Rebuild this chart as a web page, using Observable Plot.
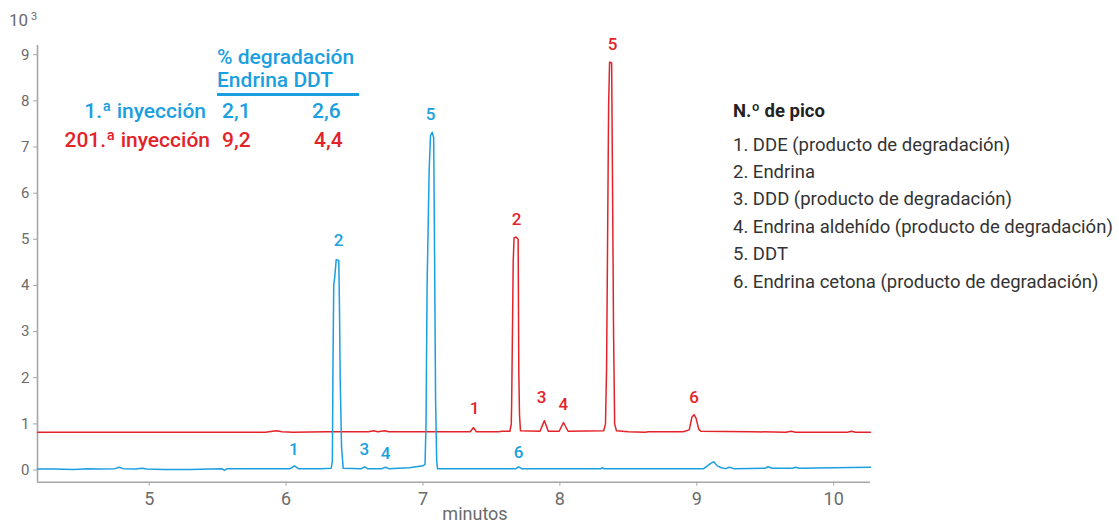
<!DOCTYPE html>
<html>
<head>
<meta charset="utf-8">
<script src="https://cdn.jsdelivr.net/npm/d3@7"></script>
<script src="https://cdn.jsdelivr.net/npm/@observablehq/plot@0.6"></script>
<style>
  html, body { margin: 0; padding: 0; background: #fff; }
  #wrap { position: relative; width: 1119px; height: 529px; font-family: Roboto, "Noto Sans", sans-serif; }
  .ov { position: absolute; white-space: nowrap; line-height: 1; }
  .blue { color: #1a9fe0; }
  .red { color: #e3232a; }
  .tb { font-size: 21px; font-weight: 500; }
  .lg { font-size: 18.5px; color: #333; }
</style>
</head>
<body>
<div id="wrap"></div>
<script>
// ---- data (minutes, response ×10³) ----
const blueTime = [4.184,4.30,4.45,4.55,4.62,4.75,4.78,4.81,4.90,4.95,4.98,5.10,5.30,5.45,5.53,5.55,5.57,5.80,6.03,6.061,6.09,6.25,6.33,6.338,6.343,6.348,6.356,6.366,6.385,6.39,6.395,6.405,6.417,6.55,6.572,6.595,6.70,6.726,6.75,6.90,7.00,7.015,7.022,7.03,7.045,7.055,7.067,7.078,7.085,7.092,7.10,7.106,7.40,7.68,7.698,7.72,8.10,8.30,8.31,8.32,8.70,9.05,9.10,9.124,9.15,9.18,9.21,9.24,9.27,9.50,9.52,9.55,9.70,9.72,9.75,10.0,10.269];
const blueResp = [0.02,0.02,0.01,0.03,0.02,0.03,0.06,0.03,0.02,0.04,0.02,0.01,0.01,0.02,0.03,-0.01,0.03,0.03,0.03,0.09,0.03,0.03,0.04,0.2,2.5,4.0,4.2,4.56,4.54,3.5,2.0,0.5,0.04,0.03,0.07,0.03,0.03,0.06,0.03,0.05,0.09,0.12,1.0,4.0,6.5,7.25,7.32,7.2,4.5,1.5,0.2,0.03,0.03,0.03,0.07,0.03,0.03,0.03,0.05,0.03,0.03,0.03,0.14,0.18,0.09,0.05,0.03,0.06,0.03,0.04,0.07,0.04,0.04,0.06,0.04,0.05,0.06];

const redTime = [4.184,5.85,5.90,5.93,5.97,6.05,6.30,6.60,6.64,6.67,6.72,6.75,7.345,7.369,7.39,7.55,7.58,7.635,7.645,7.648,7.659,7.665,7.68,7.695,7.70,7.705,7.712,7.855,7.887,7.915,7.995,8.026,8.06,8.32,8.333,8.341,8.348,8.356,8.363,8.378,8.385,8.392,8.40,8.413,8.50,8.62,8.65,8.90,8.945,8.965,8.98,8.995,9.015,9.03,9.40,9.65,9.69,9.72,10.10,10.13,10.16,10.269];
const redResp = [0.82,0.82,0.84,0.85,0.83,0.82,0.83,0.83,0.85,0.83,0.85,0.83,0.83,0.92,0.83,0.83,0.84,0.84,1.0,1.5,4.5,5.03,5.05,5.0,2.1,1.2,0.85,0.84,1.07,0.84,0.84,1.03,0.84,0.85,1.0,2.2,4.8,7.9,8.84,8.82,6.0,3.0,1.0,0.85,0.83,0.82,0.83,0.83,0.87,1.15,1.20,1.12,0.88,0.84,0.83,0.82,0.84,0.82,0.82,0.84,0.82,0.82];

// peak labels (position)
const peakNames = ["1","2","3","4","5","6"];
const bluePeakTime = [6.056,6.383,6.572,6.726,7.055,7.698];
const bluePeakLabelY = [0.44,4.97,0.44,0.36,7.70,0.38];
const redPeakTime = [7.376,7.683,7.866,8.026,8.384,8.98];
const redPeakLabelY = [1.33,5.43,1.57,1.42,9.22,1.57];

const xTicks = [5,6,7,8,9,10];
const yTicks = [0,1,2,3,4,5,6,7,8,9];
const xDomain = [4.184, 10.269];
const yDomain = [-0.264, 9.2];

const legendTitle = "N.º de pico";
const legendItems = ["1. DDE (producto de degradación)","2. Endrina","3. DDD (producto de degradación)","4. Endrina aldehído (producto de degradación)","5. DDT","6. Endrina cetona (producto de degradación)"];

const BLUE = "#1a9fe0", RED = "#e3232a", GRAY = "#a6a6a6", TXT = "#6b6b6b";

const blue = blueTime.map((t,i)=>({t, v: blueResp[i]}));
const red = redTime.map((t,i)=>({t, v: redResp[i]}));
const blueLab = peakNames.map((n,i)=>({n, t: bluePeakTime[i], v: bluePeakLabelY[i]}));
const redLab = peakNames.map((n,i)=>({n, t: redPeakTime[i], v: redPeakLabelY[i]}));

const chart = Plot.plot({
  width: 1119, height: 529,
  marginLeft: 37, marginRight: 249, marginTop: 45, marginBottom: 47.3,
  style: {fontFamily: "Roboto, 'Noto Sans', sans-serif", background: "transparent"},
  x: {domain: xDomain},
  y: {domain: yDomain},
  marks: [
    Plot.ruleX([xDomain[0]], {stroke: GRAY, strokeWidth: 1.6}),
    Plot.ruleY([yDomain[0]], {stroke: GRAY, strokeWidth: 1.6}),
    Plot.axisY({ticks: yTicks, tickFormat: d => String(d), tickSize: 4, tickPadding: 4, stroke: GRAY, color: TXT, fontSize: 15, label: null}),
    Plot.axisX({ticks: xTicks, tickFormat: d => String(d), tickSize: 4, tickPadding: 6, stroke: GRAY, color: TXT, fontSize: 18, label: null}),
    Plot.line(red, {x: "t", y: "v", stroke: RED, strokeWidth: 1.5}),
    Plot.line(blue, {x: "t", y: "v", stroke: BLUE, strokeWidth: 1.5}),
    Plot.text(blueLab, {x: "t", y: "v", text: "n", fill: BLUE, fontSize: 17, fontWeight: 500}),
    Plot.text(redLab, {x: "t", y: "v", text: "n", fill: RED, fontSize: 17, fontWeight: 500}),
    Plot.text(["minutos"], {frameAnchor: "bottom", dx: 21, dy: 38, text: d => d, fill: TXT, fontSize: 18})
  ]
});

const wrap = document.getElementById("wrap");
wrap.appendChild(chart);

function ov(html, css, cls) {
  const d = document.createElement("div");
  d.className = "ov " + (cls || "");
  d.innerHTML = html;
  Object.assign(d.style, css);
  wrap.appendChild(d);
  return d;
}
// 10^3
ov('10<sup style="font-size:11px;vertical-align:6px;margin-left:3px">3</sup>', {left: "9px", top: "11px", fontSize: "17px", color: TXT});

// degradation table
ov("% degradación", {left: "217px", top: "46.5px"}, "tb blue");
ov("Endrina DDT", {left: "217px", top: "69.5px"}, "tb blue");
ov("", {left: "217px", top: "93px", width: "142px", height: "2.5px", background: BLUE});
ov("1.ª inyección", {right: (1119-206)+"px", top: "100.5px"}, "tb blue");
ov("2,1", {left: "222px", top: "100.5px"}, "tb blue");
ov("2,6", {left: "312px", top: "100.5px"}, "tb blue");
ov("201.ª inyección", {right: (1119-210)+"px", top: "129.5px"}, "tb red");
ov("9,2", {left: "222px", top: "129.5px"}, "tb red");
ov("4,4", {left: "314px", top: "129.5px"}, "tb red");

// legend
ov(legendTitle, {left: "733px", top: "101.5px", fontSize: "18.5px", fontWeight: "700", color: "#222"});
legendItems.forEach((s,i) => ov(s, {left: "733px", top: (135.5 + i*27.4) + "px"}, "lg"));
</script>
</body>
</html>
